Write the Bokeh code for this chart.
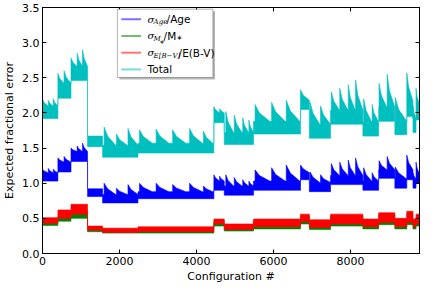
from bokeh.plotting import figure
from bokeh.models import Range1d, LinearAxis, FixedTicker, Label, BoxAnnotation
from bokeh.embed import file_html
from bokeh.resources import INLINE

# ---------------- data ----------------
x_ticks = [0, 2000, 4000, 6000, 8000]
y_ticks = [0.0, 0.5, 1.0, 1.5, 2.0, 2.5, 3.0, 3.5]

# blocks of configurations (start / end)
seg_start = [0, 400, 740, 1170, 1560, 2480, 4450, 4720, 5480, 6700, 6930, 7480, 8320, 8730, 9150, 9460, 9620, 9700]
seg_end = [400, 740, 1170, 1560, 2480, 4450, 4720, 5480, 6700, 6930, 7480, 8320, 8730, 9150, 9460, 9620, 9700, 9790]

# saw-tooth bursts inside the blocks (start / end)
tooth_start = [0, 150, 280, 400, 560, 740, 900, 1040, 1600, 1920, 2220, 2520, 2950, 3380, 3820, 4180,
               4450, 4600, 4760, 4980, 5200, 5360, 5520, 5950, 6330, 6700, 6950, 7220, 7500, 7720, 7940,
               8130, 8340, 8560, 8740, 8950, 9160, 9460, 9620, 9700]
tooth_end = [140, 270, 400, 560, 740, 900, 1040, 1170, 1900, 2200, 2480, 2850, 3280, 3720, 4150, 4420,
             4600, 4720, 4960, 5180, 5350, 5480, 5900, 6300, 6680, 6930, 7200, 7480, 7710, 7930, 8120,
             8320, 8550, 8730, 8940, 9150, 9460, 9620, 9700, 9790]

# Total
total_lo = [1.92, 2.21, 2.46, 1.52, 1.37, 1.43, 1.86, 1.55, 1.70, 2.05, 1.64, 1.84, 1.67, 1.88, 1.69, 1.95, 1.72, 1.90]
total_body = [2.10, 2.42, 2.66, 1.67, 1.54, 1.57, 2.00, 1.72, 1.88, 2.18, 1.84, 2.04, 1.87, 2.08, 1.88, 2.17, 1.92, 2.12]
total_peak = [2.20, 2.18, 2.20, 2.56, 2.60, 2.78, 2.85, 2.90, 1.80, 1.70, 1.78, 1.76, 1.77, 1.76, 1.78, 1.74,
              2.09, 2.06, 2.02, 1.97, 1.93, 1.90, 2.12, 2.15, 2.18, 2.33, 2.15, 2.10, 2.30, 2.35, 2.40,
              2.47, 2.20, 2.12, 2.42, 2.55, 2.22, 2.57, 2.10, 2.35]

# sigma_Age / Age
age_lo = [1.03, 1.16, 1.31, 0.81, 0.72, 0.78, 0.90, 0.83, 0.90, 1.05, 0.88, 0.98, 0.90, 1.07, 0.93, 1.05, 0.93, 1.00]
age_body = [1.15, 1.30, 1.45, 0.92, 0.84, 0.88, 1.03, 0.96, 1.03, 1.15, 1.01, 1.11, 1.03, 1.19, 1.06, 1.19, 1.06, 1.13]
age_peak = [1.20, 1.21, 1.20, 1.36, 1.38, 1.50, 1.53, 1.57, 1.00, 0.93, 0.98, 1.00, 1.00, 0.98, 1.00, 0.96,
            1.12, 1.10, 1.12, 1.08, 1.05, 1.03, 1.19, 1.22, 1.26, 1.26, 1.16, 1.12, 1.28, 1.30, 1.33,
            1.36, 1.22, 1.15, 1.32, 1.38, 1.23, 1.40, 1.15, 1.30]

# sigma_E(B-V) / E(B-V)
ebv_lo = [0.43, 0.50, 0.56, 0.33, 0.30, 0.31, 0.42, 0.34, 0.38, 0.45, 0.37, 0.42, 0.38, 0.44, 0.38, 0.44, 0.38, 0.42]
ebv_hi = [0.51, 0.62, 0.70, 0.39, 0.36, 0.38, 0.49, 0.42, 0.49, 0.56, 0.48, 0.56, 0.49, 0.58, 0.50, 0.60, 0.49, 0.56]

# sigma_M* / M*
mass_lo = [0.40, 0.46, 0.50, 0.31, 0.29, 0.29, 0.39, 0.32, 0.35, 0.42, 0.34, 0.39, 0.35, 0.41, 0.35, 0.41, 0.35, 0.39]
mass_hi = [0.45, 0.53, 0.61, 0.37, 0.35, 0.37, 0.46, 0.40, 0.46, 0.53, 0.45, 0.53, 0.46, 0.55, 0.47, 0.56, 0.46, 0.52]

BLUE, GREEN, RED, CYAN = "#0000ff", "#008000", "#ff0000", "#00bfbf"


def band(lo, body, peaks=None):
    top_x, top_y, bot_x, bot_y = [], [], [], []
    for s, e, l, b in zip(seg_start, seg_end, lo, body):
        top_x.append(s)
        top_y.append(b)
        if peaks is not None:
            for ts, te, pk in zip(tooth_start, tooth_end, peaks):
                if s <= ts < e:
                    # sharp rise, fast first decay, slower tail (comb-like burst)
                    top_x += [ts, ts, ts + 0.3 * (te - ts), te]
                    top_y += [b, pk, b + 0.5 * (pk - b), b]
        top_x.append(e)
        top_y.append(b)
        bot_x += [s, e]
        bot_y += [l, l]
    return top_x + bot_x[::-1], top_y + bot_y[::-1]


FONT = "DejaVu Sans"
FS = "11px"

p = figure(width=427, height=284, frame_width=377, frame_height=246,
           x_range=Range1d(0, 9790), y_range=Range1d(0, 3.5),
           output_backend="svg", toolbar_location=None,
           min_border_top=7, min_border_right=6, min_border_bottom=5, min_border_left=3)
p.grid.visible = False
p.outline_line_color = "black"
p.outline_line_width = 1
p.background_fill_color = "white"
p.border_fill_color = "white"

for xs, ys, c in [band(age_lo, age_body, age_peak) + (BLUE,),
                  band(mass_lo, mass_hi) + (GREEN,),
                  band(ebv_lo, ebv_hi) + (RED,),
                  band(total_lo, total_body, total_peak) + (CYAN,)]:
    p.patch(xs, ys, fill_color=c, line_color=c, line_width=0.6)

for ax in p.xaxis + p.yaxis:
    ax.major_tick_in = 4
    ax.major_tick_out = 0
    ax.minor_tick_line_color = None
    ax.axis_line_color = "black"
    ax.major_label_text_font = FONT
    ax.major_label_text_font_size = FS
    ax.major_label_text_color = "black"
    ax.axis_label_text_font = FONT
    ax.axis_label_text_font_size = FS
    ax.axis_label_text_font_style = "normal"
    ax.axis_label_text_color = "black"
p.xaxis.ticker = FixedTicker(ticks=x_ticks)
p.yaxis.ticker = FixedTicker(ticks=y_ticks)
p.xaxis.major_label_overrides = {t: str(t) for t in x_ticks}
p.yaxis.major_label_overrides = {t: "%.1f" % t for t in y_ticks}
p.xaxis.axis_label = "Configuration #"
p.yaxis.axis_label = "Expected fractional error"
p.xaxis.major_label_standoff = 3
p.yaxis.major_label_standoff = 3
p.xaxis.axis_label_standoff = 2
p.yaxis.axis_label_standoff = 3

top_ax = LinearAxis(ticker=FixedTicker(ticks=x_ticks), major_tick_in=4, major_tick_out=0,
                    minor_tick_line_color=None, major_label_overrides={t: "" for t in x_ticks},
                    major_label_standoff=0, axis_line_color="black")
right_ax = LinearAxis(ticker=FixedTicker(ticks=y_ticks), major_tick_in=4, major_tick_out=0,
                      minor_tick_line_color=None, major_label_overrides={t: "" for t in y_ticks},
                      major_label_standoff=0, axis_line_color="black")
p.add_layout(top_ax, "above")
p.add_layout(right_ax, "right")

# ---------------- legend (hand built, matplotlib style) ----------------
leg_left, leg_right, leg_top, leg_bottom = 1944, 4425, 3.476, 2.504
p.add_layout(BoxAnnotation(left=leg_left + 55, right=leg_right + 55, top=leg_top - 0.03, bottom=leg_bottom - 0.03,
                           fill_color="#888888", fill_alpha=0.6, line_color=None, level="annotation"))
p.add_layout(BoxAnnotation(left=leg_left, right=leg_right, top=leg_top, bottom=leg_bottom,
                           fill_color="white", fill_alpha=1.0, line_color="black", line_width=1,
                           level="annotation"))

leg_colors = [BLUE, GREEN, RED, CYAN]
leg_rows = [3.333, 3.095, 2.857, 2.619]
line_x0, line_x1, text_x = 2046, 2558, 2729
for c, yy in zip(leg_colors, leg_rows):
    r = p.line([line_x0, line_x1], [yy, yy], line_color=c, line_width=2, line_alpha=0.55)
    r.level = "overlay"

SERIF = "DejaVu Serif"
SUB = -0.045


def lab(txt, y, dx, font=FONT, size="10.5px", style="normal"):
    p.add_layout(Label(x=text_x, y=y, x_offset=dx, text=txt, text_font=font, text_font_size=size,
                       text_font_style=style, text_baseline="middle", text_align="left",
                       text_color="black", level="overlay"))


# row 1: sigma_Age / Age
lab("σ", leg_rows[0], 0, SERIF, "10px", "italic")
lab("Age", leg_rows[0] + SUB, 6, SERIF, "7px", "italic")
lab("/Age", leg_rows[0], 19)
# row 2: sigma_M* / M*
lab("σ", leg_rows[1], 0, SERIF, "10px", "italic")
lab("M", leg_rows[1] + SUB, 6, SERIF, "7px", "italic")
lab("∗", leg_rows[1] + SUB - 0.03, 12, FONT, "6px")
lab("/M", leg_rows[1], 16)
lab("∗", leg_rows[1] - 0.035, 29, FONT, "7px")
# row 3: sigma_E[B-V] / E(B-V)
lab("σ", leg_rows[2], 0, SERIF, "10px", "italic")
lab("E[B−V]", leg_rows[2] + SUB, 6, SERIF, "7px", "italic")
lab("/E(B-V)", leg_rows[2], 31)
# row 4: Total
lab("Total", leg_rows[3], 0)

open("out.html", "w").write(file_html(p, INLINE))
